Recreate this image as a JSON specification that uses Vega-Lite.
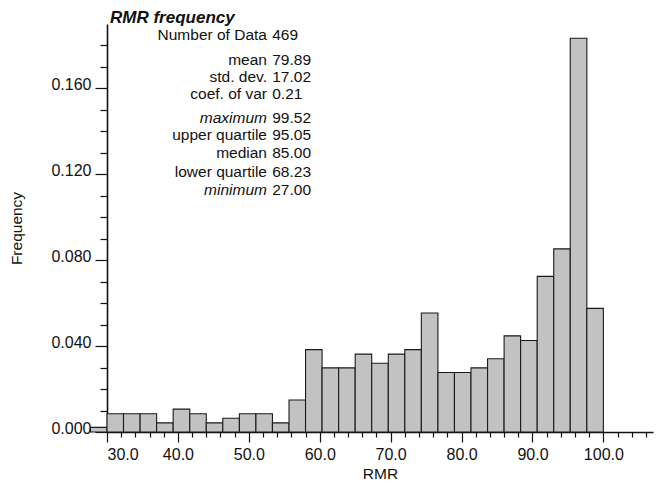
{
  "$schema": "https://vega.github.io/schema/vega-lite/v6.json",
  "width": 546,
  "height": 408,
  "autosize": {"type": "none"},
  "padding": {"left": 107, "top": 24, "right": 6, "bottom": 66},
  "background": "white",
  "title": {
    "text": "RMR frequency",
    "anchor": "start",
    "frame": "group",
    "dx": 3,
    "dy": 15.5,
    "offset": 0,
    "baseline": "alphabetic",
    "font": "Liberation Sans",
    "fontSize": 17,
    "fontWeight": "bold",
    "fontStyle": "italic",
    "color": "#111"
  },
  "config": {
    "view": {"stroke": null},
    "font": "Liberation Sans",
    "axis": {
      "grid": false,
      "domainColor": "#111",
      "tickColor": "#111",
      "labelColor": "#111",
      "titleColor": "#111",
      "labelFont": "Liberation Sans",
      "titleFont": "Liberation Sans",
      "labelFontSize": 16,
      "titleFontSize": 15.5,
      "titleFontWeight": "normal",
      "tickWidth": 1.2,
      "domainWidth": 1.6
    },
    "text": {"font": "Liberation Sans", "fontSize": 15.5, "color": "#111", "baseline": "middle"}
  },
  "datasets": {
    "bins": [
      {"bin_start": 27.67, "bin_end": 30.0, "frequency": 0.002132},
      {"bin_start": 30.0, "bin_end": 32.33, "frequency": 0.008529},
      {"bin_start": 32.33, "bin_end": 34.67, "frequency": 0.008529},
      {"bin_start": 34.67, "bin_end": 37.0, "frequency": 0.008529},
      {"bin_start": 37.0, "bin_end": 39.33, "frequency": 0.004264},
      {"bin_start": 39.33, "bin_end": 41.67, "frequency": 0.010661},
      {"bin_start": 41.67, "bin_end": 44.0, "frequency": 0.008529},
      {"bin_start": 44.0, "bin_end": 46.33, "frequency": 0.004264},
      {"bin_start": 46.33, "bin_end": 48.67, "frequency": 0.006397},
      {"bin_start": 48.67, "bin_end": 51.0, "frequency": 0.008529},
      {"bin_start": 51.0, "bin_end": 53.33, "frequency": 0.008529},
      {"bin_start": 53.33, "bin_end": 55.67, "frequency": 0.004264},
      {"bin_start": 55.67, "bin_end": 58.0, "frequency": 0.014925},
      {"bin_start": 58.0, "bin_end": 60.33, "frequency": 0.03838},
      {"bin_start": 60.33, "bin_end": 62.67, "frequency": 0.029851},
      {"bin_start": 62.67, "bin_end": 65.0, "frequency": 0.029851},
      {"bin_start": 65.0, "bin_end": 67.33, "frequency": 0.036247},
      {"bin_start": 67.33, "bin_end": 69.67, "frequency": 0.031983},
      {"bin_start": 69.67, "bin_end": 72.0, "frequency": 0.036247},
      {"bin_start": 72.0, "bin_end": 74.33, "frequency": 0.03838},
      {"bin_start": 74.33, "bin_end": 76.67, "frequency": 0.055437},
      {"bin_start": 76.67, "bin_end": 79.0, "frequency": 0.027719},
      {"bin_start": 79.0, "bin_end": 81.33, "frequency": 0.027719},
      {"bin_start": 81.33, "bin_end": 83.67, "frequency": 0.029851},
      {"bin_start": 83.67, "bin_end": 86.0, "frequency": 0.034115},
      {"bin_start": 86.0, "bin_end": 88.33, "frequency": 0.044776},
      {"bin_start": 88.33, "bin_end": 90.67, "frequency": 0.042644},
      {"bin_start": 90.67, "bin_end": 93.0, "frequency": 0.072495},
      {"bin_start": 93.0, "bin_end": 95.33, "frequency": 0.085288},
      {"bin_start": 95.33, "bin_end": 97.67, "frequency": 0.183369},
      {"bin_start": 97.67, "bin_end": 100.0, "frequency": 0.057569}
    ],
    "stats": [
      {"stat": "Number of Data", "value": "469"},
      {"stat": "mean", "value": "79.89"},
      {"stat": "std. dev.", "value": "17.02"},
      {"stat": "coef. of var", "value": "0.21"},
      {"stat": "maximum", "value": "99.52"},
      {"stat": "upper quartile", "value": "95.05"},
      {"stat": "median", "value": "85.00"},
      {"stat": "lower quartile", "value": "68.23"},
      {"stat": "minimum", "value": "27.00"}
    ]
  },
  "layer": [
    {
      "data": {"name": "bins"},
      "mark": {"type": "rect", "fill": "#c2c2c2", "stroke": "#1a1a1a", "strokeWidth": 1.1},
      "encoding": {
        "x": {
          "field": "bin_start",
          "type": "quantitative",
          "scale": {"domain": [30, 107], "nice": false, "zero": false},
          "axis": {
            "orient": "bottom",
            "values": [30, 40, 50, 60, 70, 80, 90, 100],
            "format": ".1f",
            "tickSize": 10,
            "labelPadding": 4,
            "title": "RMR",
            "titlePadding": 4
          }
        },
        "x2": {"field": "bin_end"},
        "y": {
          "field": "frequency",
          "type": "quantitative",
          "scale": {"domain": [0, 0.19], "nice": false},
          "axis": {
            "orient": "left",
            "values": [0, 0.04, 0.08, 0.12, 0.16],
            "format": ".3f",
            "tickSize": 12,
            "labelPadding": 4,
            "labelBaseline": "alphabetic",
            "labelOffset": 1,
            "title": "Frequency",
            "titlePadding": 26
          }
        },
        "y2": {"datum": 0}
      }
    },
    {
      "data": {"name": "bins"},
      "mark": {"type": "point", "opacity": 0},
      "encoding": {
        "x": {
          "field": "bin_start",
          "type": "quantitative",
          "axis": {
            "orient": "bottom",
            "values": [32, 34, 36, 38, 42, 44, 46, 48, 52, 54, 56, 58, 62, 64, 66, 68, 72, 74, 76, 78, 82, 84, 86, 88, 92, 94, 96, 98, 102, 104, 106],
            "labels": false,
            "domain": false,
            "tickSize": 5,
            "title": null
          }
        },
        "y": {
          "field": "frequency",
          "type": "quantitative",
          "axis": {
            "orient": "left",
            "values": [0.01, 0.02, 0.03, 0.05, 0.06, 0.07, 0.09, 0.1, 0.11, 0.13, 0.14, 0.15, 0.17, 0.18],
            "labels": false,
            "domain": false,
            "tickSize": 7,
            "title": null
          }
        }
      }
    },
    {
      "data": {"name": "stats"},
      "transform": [{"filter": "datum.stat === 'Number of Data'"}],
      "encoding": {"y": {"datum": 0.1849, "type": "quantitative", "axis": null}},
      "layer": [
        {"mark": {"type": "text", "align": "right"}, "encoding": {"x": {"datum": 52.56, "type": "quantitative", "axis": null}, "text": {"field": "stat"}}},
        {"mark": {"type": "text", "align": "left"}, "encoding": {"x": {"datum": 53.3, "type": "quantitative", "axis": null}, "text": {"field": "value"}}}
      ]
    },
    {
      "data": {"name": "stats"},
      "transform": [{"filter": "datum.stat === 'mean'"}],
      "encoding": {"y": {"datum": 0.1732, "type": "quantitative", "axis": null}},
      "layer": [
        {"mark": {"type": "text", "align": "right"}, "encoding": {"x": {"datum": 52.56, "type": "quantitative", "axis": null}, "text": {"field": "stat"}}},
        {"mark": {"type": "text", "align": "left"}, "encoding": {"x": {"datum": 53.3, "type": "quantitative", "axis": null}, "text": {"field": "value"}}}
      ]
    },
    {
      "data": {"name": "stats"},
      "transform": [{"filter": "datum.stat === 'std. dev.'"}],
      "encoding": {"y": {"datum": 0.1655, "type": "quantitative", "axis": null}},
      "layer": [
        {"mark": {"type": "text", "align": "right"}, "encoding": {"x": {"datum": 52.56, "type": "quantitative", "axis": null}, "text": {"field": "stat"}}},
        {"mark": {"type": "text", "align": "left"}, "encoding": {"x": {"datum": 53.3, "type": "quantitative", "axis": null}, "text": {"field": "value"}}}
      ]
    },
    {
      "data": {"name": "stats"},
      "transform": [{"filter": "datum.stat === 'coef. of var'"}],
      "encoding": {"y": {"datum": 0.1573, "type": "quantitative", "axis": null}},
      "layer": [
        {"mark": {"type": "text", "align": "right"}, "encoding": {"x": {"datum": 52.56, "type": "quantitative", "axis": null}, "text": {"field": "stat"}}},
        {"mark": {"type": "text", "align": "left"}, "encoding": {"x": {"datum": 53.3, "type": "quantitative", "axis": null}, "text": {"field": "value"}}}
      ]
    },
    {
      "data": {"name": "stats"},
      "transform": [{"filter": "datum.stat === 'maximum'"}],
      "encoding": {"y": {"datum": 0.1461, "type": "quantitative", "axis": null}},
      "layer": [
        {"mark": {"type": "text", "align": "right", "fontStyle": "italic"}, "encoding": {"x": {"datum": 52.56, "type": "quantitative", "axis": null}, "text": {"field": "stat"}}},
        {"mark": {"type": "text", "align": "left"}, "encoding": {"x": {"datum": 53.3, "type": "quantitative", "axis": null}, "text": {"field": "value"}}}
      ]
    },
    {
      "data": {"name": "stats"},
      "transform": [{"filter": "datum.stat === 'upper quartile'"}],
      "encoding": {"y": {"datum": 0.1383, "type": "quantitative", "axis": null}},
      "layer": [
        {"mark": {"type": "text", "align": "right"}, "encoding": {"x": {"datum": 52.56, "type": "quantitative", "axis": null}, "text": {"field": "stat"}}},
        {"mark": {"type": "text", "align": "left"}, "encoding": {"x": {"datum": 53.3, "type": "quantitative", "axis": null}, "text": {"field": "value"}}}
      ]
    },
    {
      "data": {"name": "stats"},
      "transform": [{"filter": "datum.stat === 'median'"}],
      "encoding": {"y": {"datum": 0.1298, "type": "quantitative", "axis": null}},
      "layer": [
        {"mark": {"type": "text", "align": "right"}, "encoding": {"x": {"datum": 52.56, "type": "quantitative", "axis": null}, "text": {"field": "stat"}}},
        {"mark": {"type": "text", "align": "left"}, "encoding": {"x": {"datum": 53.3, "type": "quantitative", "axis": null}, "text": {"field": "value"}}}
      ]
    },
    {
      "data": {"name": "stats"},
      "transform": [{"filter": "datum.stat === 'lower quartile'"}],
      "encoding": {"y": {"datum": 0.1212, "type": "quantitative", "axis": null}},
      "layer": [
        {"mark": {"type": "text", "align": "right"}, "encoding": {"x": {"datum": 52.56, "type": "quantitative", "axis": null}, "text": {"field": "stat"}}},
        {"mark": {"type": "text", "align": "left"}, "encoding": {"x": {"datum": 53.3, "type": "quantitative", "axis": null}, "text": {"field": "value"}}}
      ]
    },
    {
      "data": {"name": "stats"},
      "transform": [{"filter": "datum.stat === 'minimum'"}],
      "encoding": {"y": {"datum": 0.1127, "type": "quantitative", "axis": null}},
      "layer": [
        {"mark": {"type": "text", "align": "right", "fontStyle": "italic"}, "encoding": {"x": {"datum": 52.56, "type": "quantitative", "axis": null}, "text": {"field": "stat"}}},
        {"mark": {"type": "text", "align": "left"}, "encoding": {"x": {"datum": 53.3, "type": "quantitative", "axis": null}, "text": {"field": "value"}}}
      ]
    }
  ],
  "resolve": {"axis": {"x": "independent", "y": "independent"}}
}
